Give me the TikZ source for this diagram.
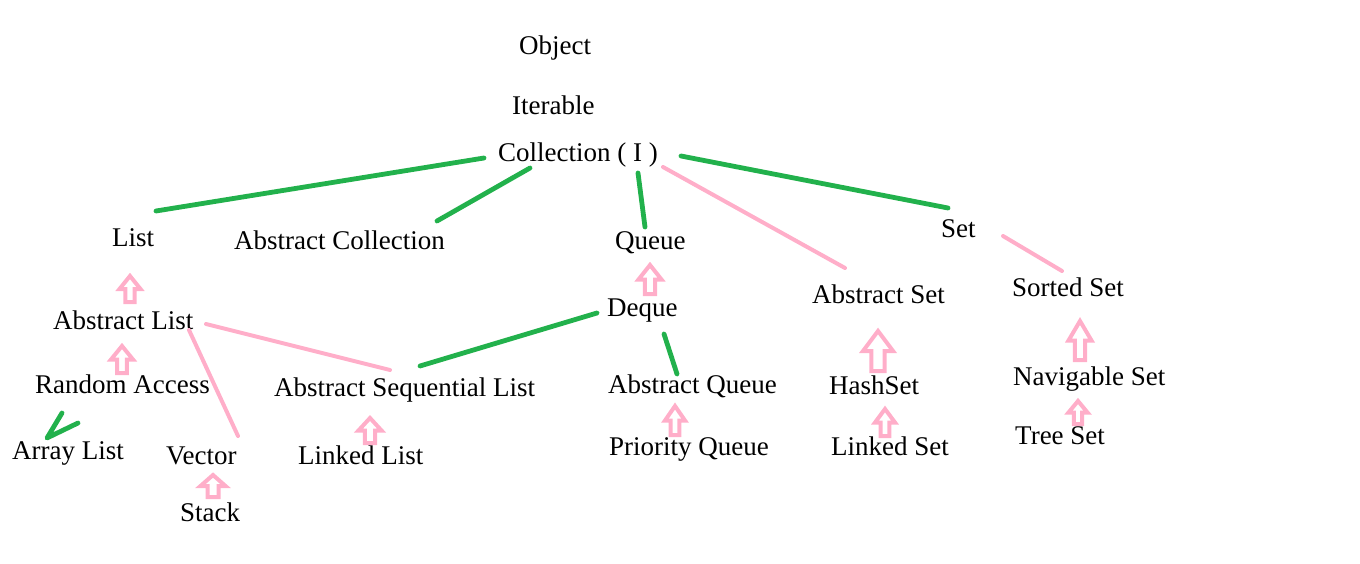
\documentclass[tikz,border=0pt]{standalone}
\usepackage{fontspec}
\setmainfont{Liberation Serif}
\definecolor{javagreen}{HTML}{22B14C}
\definecolor{javapink}{HTML}{FFAEC9}
\tikzset{
  hollowup/.pic={
    \draw[javapink, line width=4pt, line join=miter]
      (-0.22,0) -- (-0.22,-0.5) -- (-0.5,-0.5) -- (0,-1) -- (0.5,-0.5) -- (0.22,-0.5) -- (0.22,0) -- cycle;
  }
}
\begin{document}
\begin{tikzpicture}[x=1pt, y=-1pt,
    cls/.style={anchor=base west, inner sep=0pt, font=\fontsize{27}{32}\selectfont},
    greenline/.style={javagreen, line width=4.8pt, line cap=round},
    pinkline/.style={javapink, line width=4pt, line cap=round}]
        \useasboundingbox (0,0) rectangle (1360,564);
        % Classes
        \node (obj) at (519, 55) [cls] {Object};
        \node (iter) at (512, 115) [cls] {Iterable};
        \node (coll) at (498, 162) [cls] {Collection ( I )};
        \node (list) at (112, 247) [cls] {List};
        \node (abscoll) at (234, 250) [cls] {Abstract Collection};
        \node (queue) at (615, 249) [cls] {Queue};
        \node (set) at (941, 237) [cls] {Set};
        \node (absset) at (812, 303) [cls] {Abstract Set};
        \node (sortset) at (1012, 296) [cls] {Sorted Set};
        \node (abslist) at (53, 329) [cls] {Abstract List};
        \node (deque) at (607, 316) [cls] {Deque};
        \node (randacc) at (35, 393) [cls] {Random Access};
        \node (seqlist) at (274, 396) [cls] {Abstract Sequential List};
        \node (absqueue) at (608, 393) [cls] {Abstract Queue};
        \node (hashset) at (829, 394) [cls] {HashSet};
        \node (navset) at (1013, 385) [cls] {Navigable Set};
        \node (arrlist) at (12, 459) [cls] {Array List};
        \node (vector) at (166, 464) [cls] {Vector};
        \node (linklist) at (298, 464) [cls] {Linked List};
        \node (prioq) at (609, 455) [cls] {Priority Queue};
        \node (linkset) at (831, 455) [cls] {Linked Set};
        \node (treeset) at (1015, 444) [cls] {Tree Set};
        \node (stack) at (180, 521) [cls] {Stack};
        % Green lines
        \draw[greenline] ([shift={(-14,-4)}]coll.base west) -- ([shift={(44,-36)}]list.base west);
        \draw[greenline] ([shift={(32,6)}]coll.base west) -- ([shift={(203,-29)}]abscoll.base west);
        \draw[greenline] ([shift={(140,11)}]coll.base west) -- ([shift={(30,-22)}]queue.base west);
        \draw[greenline] ([shift={(183,-6)}]coll.base west) -- ([shift={(7,-29)}]set.base west);
        \draw[greenline] ([shift={(-10,-3)}]deque.base west) -- ([shift={(146,-30)}]seqlist.base west);
        \draw[greenline] ([shift={(57,18)}]deque.base west) -- ([shift={(69,-19)}]absqueue.base west);
        \draw[greenline, line join=round] ([shift={(50,-46)}]arrlist.base west) -- ([shift={(35,-21)}]arrlist.base west) -- ([shift={(66,-36)}]arrlist.base west);
        % Pink lines
        \draw[pinkline] ([shift={(165,5)}]coll.base west) -- ([shift={(33,-35)}]absset.base west);
        \draw[pinkline] ([shift={(62,-1)}]set.base west) -- ([shift={(50,-25)}]sortset.base west);
        \draw[pinkline] ([shift={(153,-5)}]abslist.base west) -- ([shift={(116,-26)}]seqlist.base west);
        \draw[pinkline] ([shift={(136,1)}]abslist.base west) -- ([shift={(72,-28)}]vector.base west);
        % Hollow arrows
        \pic[xscale=21, yscale=26] at ([shift={(77,-27)}]abslist.base west) {hollowup};
        \pic[xscale=22, yscale=27] at ([shift={(87,-20)}]randacc.base west) {hollowup};
        \pic[xscale=25, yscale=22] at ([shift={(33,-24)}]stack.base west) {hollowup};
        \pic[xscale=23, yscale=29] at ([shift={(43,-22)}]deque.base west) {hollowup};
        \pic[xscale=20, yscale=29] at ([shift={(66,-20)}]prioq.base west) {hollowup};
        \pic[xscale=23, yscale=25] at ([shift={(72,-21)}]linklist.base west) {hollowup};
        \pic[xscale=30, yscale=40] at ([shift={(49,-23)}]hashset.base west) {hollowup};
        \pic[xscale=20, yscale=27] at ([shift={(54,-19)}]linkset.base west) {hollowup};
        \pic[xscale=23, yscale=39] at ([shift={(67,-25)}]navset.base west) {hollowup};
        \pic[xscale=19, yscale=23] at ([shift={(63,-20)}]treeset.base west) {hollowup};
\end{tikzpicture}
\end{document}
